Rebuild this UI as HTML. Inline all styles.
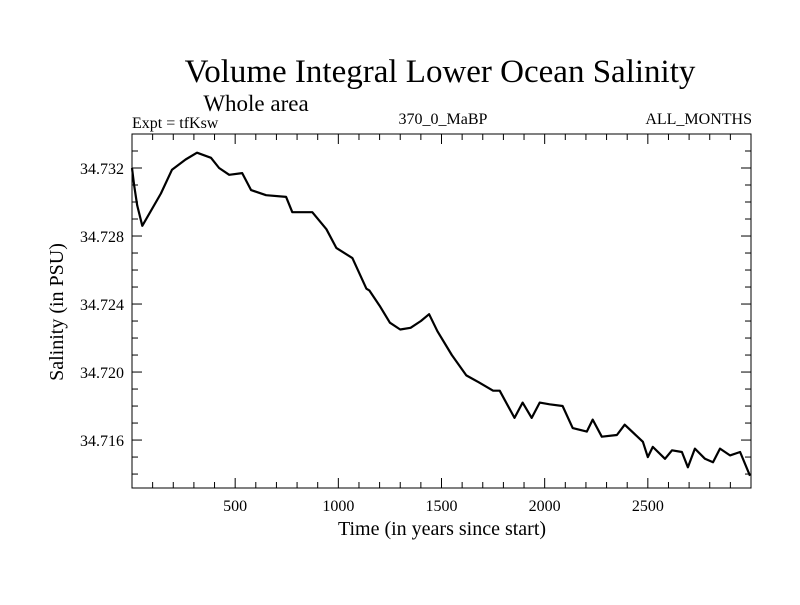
<!DOCTYPE html>
<html><head><meta charset="utf-8"><style>
body{margin:0;background:#fff}
svg text{font-family:"Liberation Serif",serif;fill:#000}
</style></head><body>
<svg width="800" height="600" id="chart">
<rect width="800" height="600" fill="#fff"/>
<text x="440" y="82" font-size="33" text-anchor="middle">Volume Integral Lower Ocean Salinity</text>
<text x="256" y="111" font-size="23" text-anchor="middle">Whole area</text>
<text x="132" y="128" font-size="16">Expt = tfKsw</text>
<text x="443" y="124" font-size="16" text-anchor="middle">370_0_MaBP</text>
<text x="752" y="124" font-size="16" text-anchor="end">ALL_MONTHS</text>
<text transform="translate(63,312) rotate(-90)" font-size="20" text-anchor="middle">Salinity (in PSU)</text>
<text x="442" y="535" font-size="20" text-anchor="middle">Time (in years since start)</text>
<g id="axes"></g>
<path id="line" fill="none" stroke="#000" stroke-width="2.2" stroke-linejoin="round"/>
<rect x="132" y="134" width="619" height="354" fill="none" stroke="#000" stroke-width="1"/>
</svg>
<script>
const years=[0,10,25,50,140,194,260,315,383,422,471,534,577,650,747,777,874,942,990,1068,1136,1150,1200,1250,1300,1350,1400,1440,1480,1550,1620,1680,1750,1782,1854,1893,1937,1976,2024,2087,2136,2204,2233,2277,2350,2388,2476,2500,2524,2583,2617,2665,2694,2728,2777,2816,2850,2898,2947,2995];
const salinity=[34.7320,34.7310,34.7298,34.7286,34.7305,34.7319,34.7325,34.7329,34.7326,34.7320,34.7316,34.7317,34.7307,34.7304,34.7303,34.7294,34.7294,34.7284,34.7273,34.7267,34.7249,34.7248,34.7239,34.7229,34.7225,34.7226,34.7230,34.7234,34.7224,34.7210,34.7198,34.7194,34.7189,34.7189,34.7173,34.7182,34.7173,34.7182,34.7181,34.7180,34.7167,34.7165,34.7172,34.7162,34.7163,34.7169,34.7159,34.7150,34.7156,34.7149,34.7154,34.7153,34.7144,34.7155,34.7149,34.7147,34.7155,34.7151,34.7153,34.7139];
const xTickLabels=["500","1000","1500","2000","2500"];
const yTickLabels=["34.716","34.720","34.724","34.728","34.732"];
const L=132,R=751,T=134,B=488,X0=0,X1=3000,Y0=34.71318,Y1=34.734;
const xs=v=>L+(v-X0)/(X1-X0)*(R-L);
const ys=v=>B-(v-Y0)/(Y1-Y0)*(B-T);
const ns="http://www.w3.org/2000/svg",g=document.getElementById("axes");
function ln(x1,y1,x2,y2){const e=document.createElementNS(ns,"line");e.setAttribute("x1",x1);e.setAttribute("y1",y1);e.setAttribute("x2",x2);e.setAttribute("y2",y2);e.setAttribute("stroke","#000");


g.appendChild(e);}
function tx(x,y,s,a){const e=document.createElementNS(ns,"text");e.setAttribute("x",x);e.setAttribute("y",y);e.setAttribute("font-size","16");e.setAttribute("text-anchor",a);e.textContent=s;


g.appendChild(e);}
for(let v=100;v<3000;v+=100){const x=xs(v),big=v%500==0,l=big?10:6;ln(x,B,x,B-l);ln(x,T,x,T+l);}
xTickLabels.forEach(s=>tx(xs(+s),511,s,"middle"));
for(let k=14;k<=33;k++){const v=34.700+k*0.001,y=ys(v),big=k%4==0,l=big?10:6;ln(L,y,L+l,y);ln(R,y,R-l,y);}
yTickLabels.forEach(s=>tx(124,ys(+s)+6,s,"end"));
let d="";years.forEach((yr,i)=>{d+=(i?"L":"M")+xs(yr).toFixed(1)+","+ys(salinity[i]).toFixed(1);});
document.getElementById("line").setAttribute("d",d);
</script>
</body></html>
